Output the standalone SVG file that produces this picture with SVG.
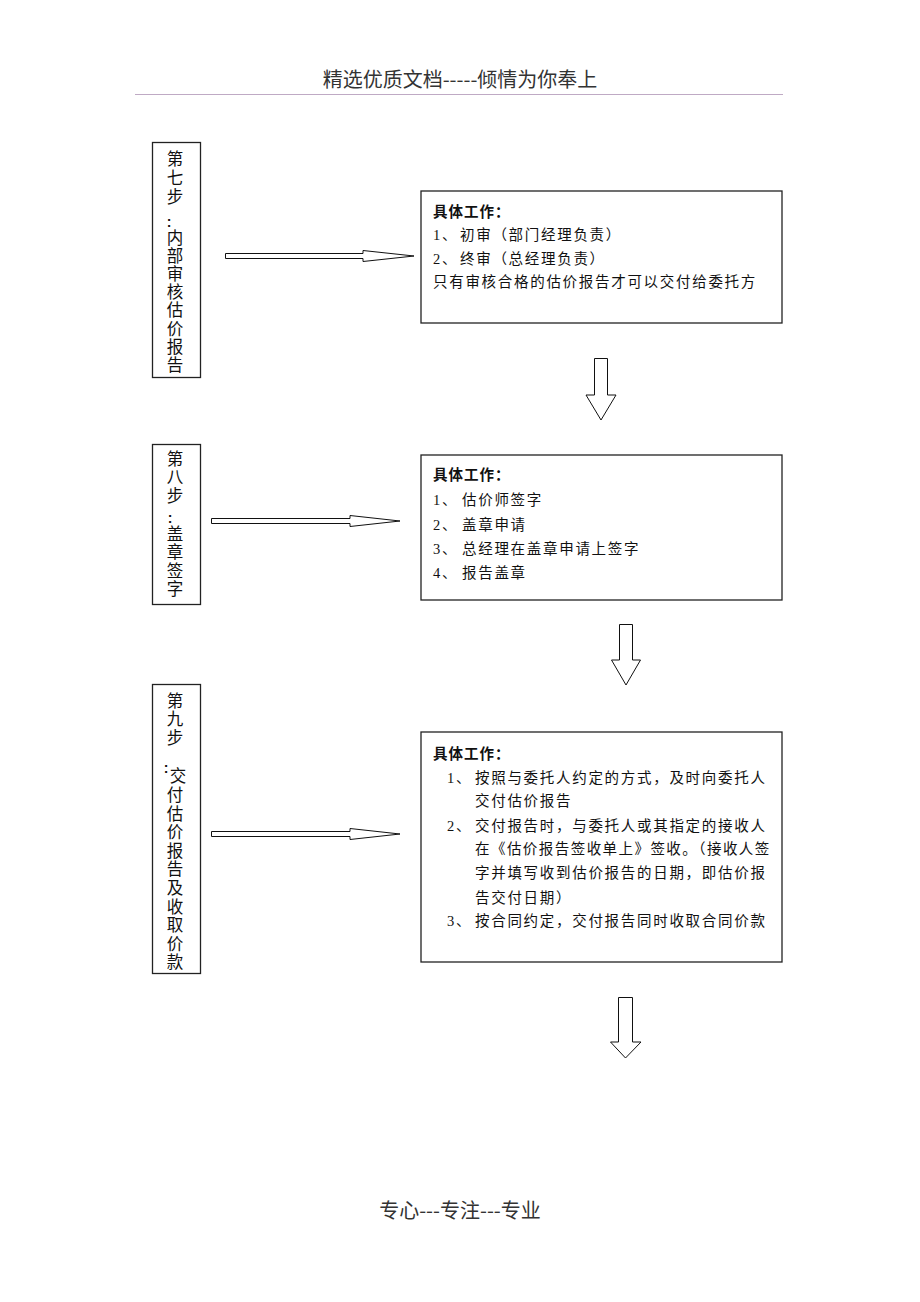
<svg xmlns="http://www.w3.org/2000/svg" width="920" height="1302" viewBox="0 0 920 1302">
<style>
.hdr{font-family:"Noto Sans CJK SC","Liberation Sans",sans-serif;font-size:20px;fill:#333;text-anchor:middle}
.box{fill:#fff;stroke:#222;stroke-width:1.3}
.lbl{font-family:"Noto Sans CJK SC",sans-serif;font-size:16.5px;fill:#111;writing-mode:vertical-rl;letter-spacing:2.1px}
.col{font-family:"Liberation Sans",sans-serif;font-size:14px;font-weight:bold;fill:#111;text-anchor:middle}
.txt{font-family:"Liberation Serif","Noto Sans CJK SC",serif;font-size:14.5px;fill:#111;letter-spacing:1.7px}
.bold{font-family:"Noto Sans CJK SC",sans-serif;font-weight:bold;font-size:14.5px;fill:#111;letter-spacing:1px}
.arr{fill:#fff;stroke:#111;stroke-width:1}
</style>
<rect width="920" height="1302" fill="#fff"/>
<g id="header">
<text class="hdr" x="460" y="87">精选优质文档-----倾情为你奉上</text>
<line x1="135" y1="94.5" x2="783" y2="94.5" stroke="#bfaac4" stroke-width="1.2"/>
</g>
<g id="step7">
<rect class="box" x="152.5" y="142.5" width="48" height="235"/>
<text class="lbl" x="175" y="150" style="letter-spacing:2.6px">第七步</text>
<text class="col" x="169" y="227">:</text>
<text class="lbl" x="175" y="229.5" style="letter-spacing:1.6px">内部审核估价报告</text>
</g>
<g id="work7">
<rect class="box" x="421" y="191" width="361" height="132"/>
<text class="bold" x="433" y="217">具体工作：</text>
<text class="txt" y="240"><tspan x="433">1、</tspan><tspan x="460">初审（部门经理负责）</tspan></text>
<text class="txt" y="264"><tspan x="433">2、</tspan><tspan x="460">终审（总经理负责）</tspan></text>
<text class="txt" x="433" y="287">只有审核合格的估价报告才可以交付给委托方</text>
</g>
<g id="step8">
<rect class="box" x="152.5" y="444.5" width="48" height="160"/>
<text class="lbl" x="175" y="450">第八步</text>
<text class="col" x="170" y="523">:</text>
<text class="lbl" x="175" y="525">盖章签字</text>
</g>
<g id="work8">
<rect class="box" x="421" y="455" width="361" height="145"/>
<text class="bold" x="433" y="480">具体工作：</text>
<text class="txt" y="505"><tspan x="433">1、</tspan><tspan x="462">估价师签字</tspan></text>
<text class="txt" y="530"><tspan x="433">2、</tspan><tspan x="462">盖章申请</tspan></text>
<text class="txt" y="553.5"><tspan x="433">3、</tspan><tspan x="462">总经理在盖章申请上签字</tspan></text>
<text class="txt" y="577.5"><tspan x="433">4、</tspan><tspan x="462">报告盖章</tspan></text>
</g>
<g id="step9">
<rect class="box" x="152.5" y="684.5" width="48" height="289"/>
<text class="lbl" x="175" y="692">第九步</text>
<text class="col" x="166" y="773">:</text>
<text class="lbl" x="178" y="767">交</text>
<text class="lbl" x="175" y="786.5">付估价报告及收取价款</text>
</g>
<g id="work9">
<rect class="box" x="421" y="732" width="361" height="230"/>
<text class="bold" x="433" y="758.5">具体工作：</text>
<text class="txt" y="782.5"><tspan x="447">1、</tspan><tspan x="475">按照与委托人约定的方式，及时向委托人</tspan></text>
<text class="txt" x="475" y="805.5">交付估价报告</text>
<text class="txt" y="830.5"><tspan x="447">2、</tspan><tspan x="475">交付报告时，与委托人或其指定的接收人</tspan></text>
<text class="txt" x="475" y="853.5" textLength="296" lengthAdjust="spacing">在《估价报告签收单上》签收。（接收人签</text>
<text class="txt" x="475" y="877.5">字并填写收到估价报告的日期，即估价报</text>
<text class="txt" x="475" y="902.5">告交付日期）</text>
<text class="txt" y="925.5"><tspan x="447">3、</tspan><tspan x="475">按合同约定，交付报告同时收取合同价款</tspan></text>
</g>
<g id="connectors">
<polygon class="arr" points="225.5,253.5 363,253.5 363,250.5 414,256 363,261.5 363,258.5 225.5,258.5"/>
<polygon class="arr" points="211.5,518.5 350,518.5 350,515.5 400,521 350,526.5 350,523.5 211.5,523.5"/>
<polygon class="arr" points="211.5,831.5 350,831.5 350,828.5 400,834 350,839.5 350,836.5 211.5,836.5"/>
<polygon class="arr" points="594.5,358.5 607.5,358.5 607.5,395 616,395 601,420 586,395 594.5,395"/>
<polygon class="arr" points="619.5,624.5 632.5,624.5 632.5,660 640.5,660 626,685 611.5,660 619.5,660"/>
<polygon class="arr" points="618.5,997.5 632.5,997.5 632.5,1042 641,1042 625.5,1058 610.5,1042 618.5,1042"/>
</g>
<g id="footer">
<text class="hdr" x="460" y="1218">专心---专注---专业</text>
</g>
</svg>
